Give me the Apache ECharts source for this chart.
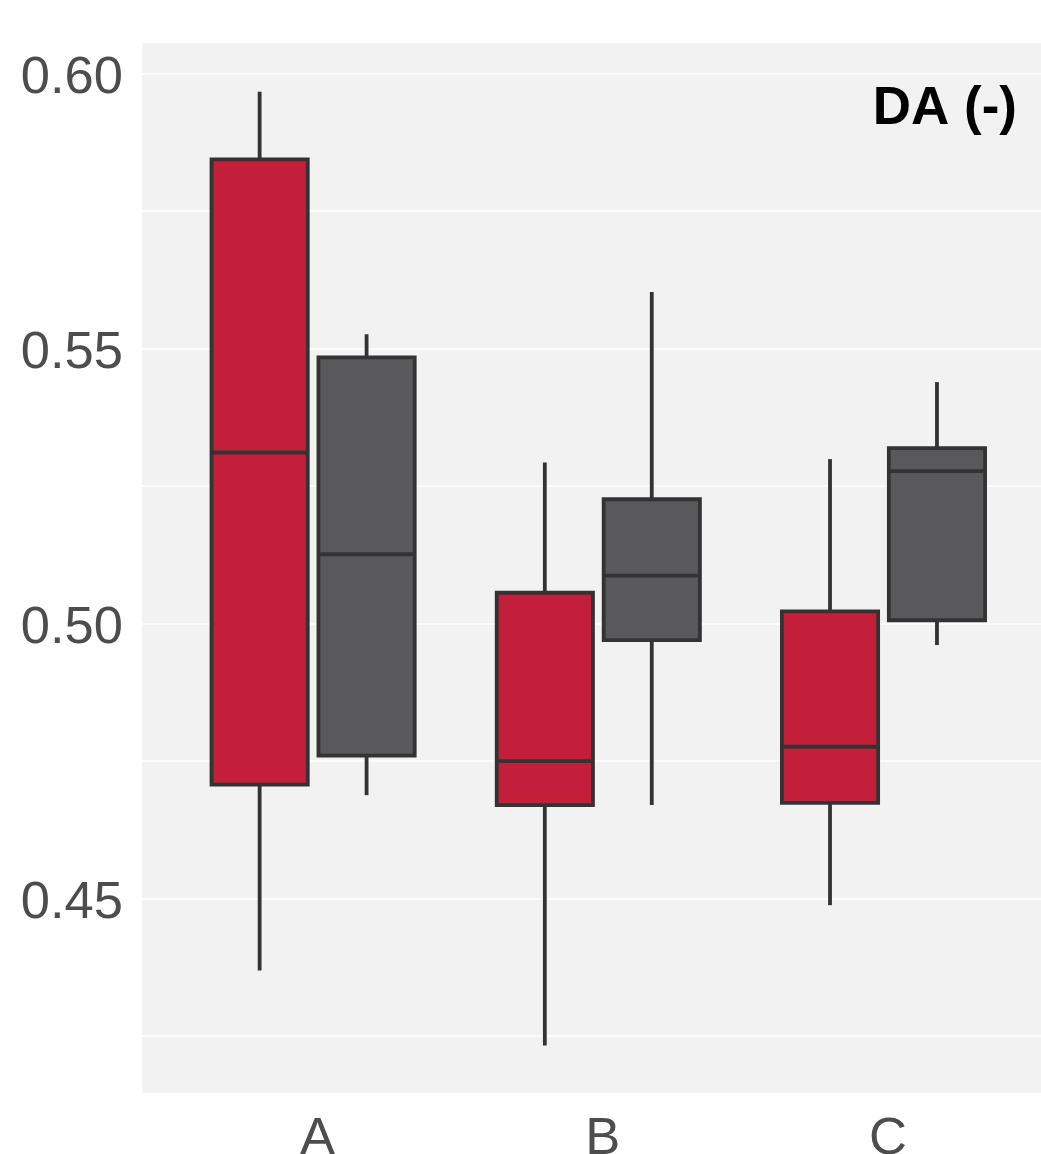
<!DOCTYPE html>
<html>
<head>
<meta charset="utf-8">
<script src="https://cdn.jsdelivr.net/npm/echarts@6/dist/echarts.min.js"></script>
<style>
html,body{margin:0;padding:0;background:#fff;}
#chart{width:1041px;height:1154px;}
</style>
</head>
<body>
<div id="chart"></div>
<script>
// ---- data ----
const categories = ['A', 'B', 'C'];
// five-number summaries: [lower whisker, Q1, median, Q3, upper whisker]
const groupRed = [
  [0.4369, 0.4707, 0.5311, 0.5844, 0.5967],
  [0.4233, 0.4670, 0.4750, 0.5056, 0.5293],
  [0.4488, 0.4674, 0.4776, 0.5022, 0.5299]
];
const groupGray = [
  [0.4688, 0.4760, 0.5126, 0.5484, 0.5526],
  [0.4670, 0.4970, 0.5087, 0.5226, 0.5603],
  [0.4961, 0.5006, 0.5277, 0.5319, 0.5439]
];
const yTicks = [0.45, 0.50, 0.55, 0.60];
const yMinorTicks = [0.425, 0.475, 0.525, 0.575];
const panelLabel = 'DA (-)';

// ---- styling ----
const FONT = '"Liberation Sans", Arial, Helvetica, sans-serif';
const DODGE = 0.1875;
const BOX_W = 0.3375;
const STROKE = '#333333';
const LW = 3.8;

function toData(arr) {
  return arr.map((s, i) => [i + 1, s[0], s[1], s[2], s[3], s[4]]);
}

function makeRender(offset, fill) {
  return function (params, api) {
    const x = api.value(0) + offset;
    const lo = api.value(1), q1 = api.value(2), md = api.value(3), q3 = api.value(4), hi = api.value(5);
    const hw = BOX_W / 2;
    const tl = api.coord([x - hw, q3]);
    const br = api.coord([x + hw, q1]);
    const cx = api.coord([x, md])[0];
    const yMd = api.coord([x, md])[1];
    const yLo = api.coord([x, lo])[1];
    const yHi = api.coord([x, hi])[1];
    const ls = { stroke: STROKE, lineWidth: LW, lineCap: 'butt' };
    return {
      type: 'group',
      children: [
        { type: 'line', shape: { x1: cx, y1: yHi, x2: cx, y2: tl[1] }, style: ls },
        { type: 'line', shape: { x1: cx, y1: br[1], x2: cx, y2: yLo }, style: ls },
        { type: 'rect', shape: { x: tl[0], y: tl[1], width: br[0] - tl[0], height: br[1] - tl[1] },
          style: { fill: fill, stroke: STROKE, lineWidth: LW, lineJoin: 'miter' } },
        { type: 'line', shape: { x1: tl[0], y1: yMd, x2: br[0], y2: yMd }, style: ls }
      ]
    };
  };
}

const gridLines = yTicks.concat(yMinorTicks).map(v => ({ yAxis: v }));

const chart = echarts.init(document.getElementById('chart'), null, { renderer: 'canvas' });
chart.setOption({
  animation: false,
  backgroundColor: '#ffffff',
  grid: {
    left: 142, top: 43.3, width: 912.6, height: 1049.4,
    show: true, backgroundColor: '#F2F2F2', borderWidth: 0,
    containLabel: false, outerBoundsMode: 'none'
  },
  xAxis: {
    type: 'value', min: 0.4, max: 3.6,
    axisLine: { show: false }, axisTick: { show: false }, splitLine: { show: false },
    axisLabel: {
      customValues: [1, 2, 3],
      formatter: v => categories[Math.round(v) - 1] || '',
      fontFamily: FONT, fontSize: 52.5, color: '#4D4D4D', margin: 21, lineHeight: 52,
      padding: [0, 0, 0, 9]
    }
  },
  yAxis: {
    type: 'value', min: 0.4147, max: 0.6055,
    axisLine: { show: false }, axisTick: { show: false }, splitLine: { show: false },
    axisLabel: {
      customValues: yTicks,
      formatter: v => v.toFixed(2),
      fontFamily: FONT, fontSize: 52.5, color: '#4D4D4D', margin: 19,
      verticalAlign: 'top', lineHeight: 9
    }
  },
  graphic: [{
    type: 'text', z: 100,
    style: {
      text: panelLabel, x: 1017, y: 109,
      textAlign: 'right', textVerticalAlign: 'middle',
      fontFamily: FONT, fontSize: 53, fontWeight: 'bold', fill: '#000000'
    }
  }],
  series: [
    {
      type: 'custom', name: 'red', z: 10,
      renderItem: makeRender(-DODGE, '#C41F3A'),
      encode: { x: 0, y: [1, 2, 3, 4, 5] },
      data: toData(groupRed),
      markLine: {
        z: 1, silent: true, symbol: ['none', 'none'], precision: 4,
        label: { show: false },
        lineStyle: { color: '#ffffff', width: 1.7, type: 'solid' },
        emphasis: { disabled: true },
        data: gridLines
      }
    },
    {
      type: 'custom', name: 'gray', z: 10,
      renderItem: makeRender(DODGE, '#59595B'),
      encode: { x: 0, y: [1, 2, 3, 4, 5] },
      data: toData(groupGray)
    }
  ]
});
</script>
</body>
</html>
